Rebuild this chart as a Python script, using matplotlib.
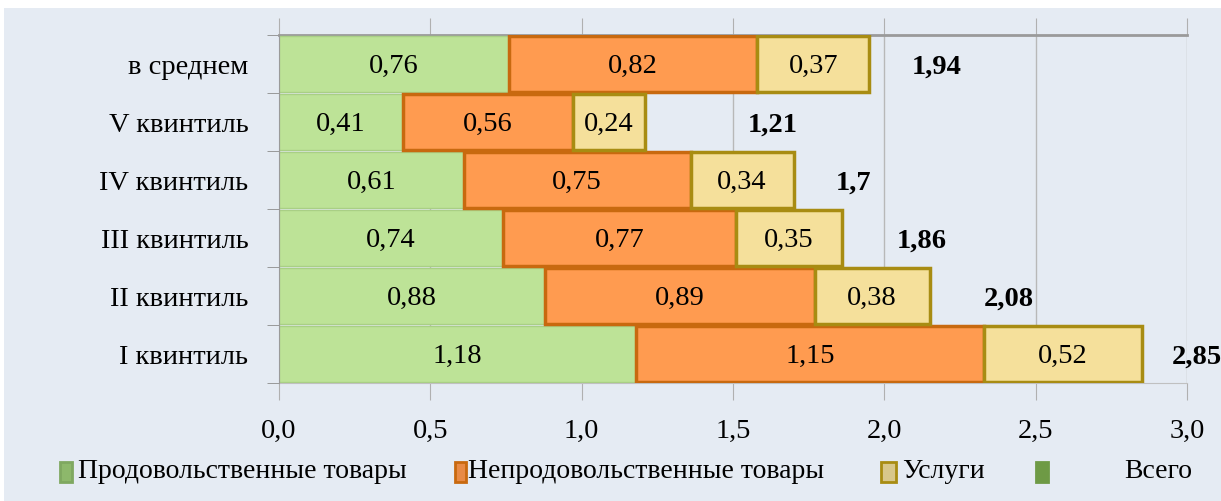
import matplotlib.pyplot as plt
from matplotlib.patches import Rectangle
import numpy as np

plt.rcParams['font.family'] = ['Liberation Serif', 'DejaVu Serif']

# data
categories = ['в среднем', 'V квинтиль', 'IV квинтиль', 'III квинтиль', 'II квинтиль', 'I квинтиль']
food = [0.76, 0.41, 0.61, 0.74, 0.88, 1.18]
nonfood = [0.82, 0.56, 0.75, 0.77, 0.89, 1.15]
services = [0.37, 0.24, 0.34, 0.35, 0.38, 0.52]
totals = [1.94, 1.21, 1.7, 1.86, 2.08, 2.85]
total_labels = ['1,94', '1,21', '1,7', '1,86', '2,08', '2,85']
legend_names = ['Продовольственные товары', 'Непродовольственные товары', 'Услуги', 'Всего']
xticks = [0.0, 0.5, 1.0, 1.5, 2.0, 2.5, 3.0]

# where the bold totals sit to the right of each bar
total_offsets = [0.15, 0.34, 0.14, 0.18, 0.25, 0.10]

bg = '#E5EBF3'
fig = plt.figure(figsize=(12.21, 5.01), dpi=100)
fig.patch.set_facecolor('white')
fig.patches.append(Rectangle((4 / 1221, 0), 1, 1 - 8 / 501, transform=fig.transFigure,
                             facecolor=bg, edgecolor='none', zorder=-10))

ax = fig.add_axes([279 / 1221, 1 - 383 / 501, (1187 - 279) / 1221, (383 - 35) / 501])
ax.set_facecolor(bg)

y = np.arange(len(categories))
h = 0.95
food = np.array(food)
nonfood = np.array(nonfood)
services = np.array(services)

ax.barh(y, food, height=h, color='#BDE397', edgecolor='#A9CF85', linewidth=1, zorder=3)
ax.barh(y, nonfood, left=food, height=h, color='#FF9B50', edgecolor='#C8690F', linewidth=2.5, zorder=3)
ax.barh(y, services, left=food + nonfood, height=h, color='#F5E09B', edgecolor='#A88C12', linewidth=2.5, zorder=3)

fs = 20.5
for i in range(len(categories)):
    ax.text(food[i] / 2, y[i] + 0.04, f'{food[i]:.2f}'.replace('.', ','), ha='center', va='center', fontsize=fs, zorder=4)
    ax.text(food[i] + nonfood[i] / 2, y[i] + 0.04, f'{nonfood[i]:.2f}'.replace('.', ','), ha='center', va='center', fontsize=fs, zorder=4)
    ax.text(food[i] + nonfood[i] + services[i] / 2, y[i] + 0.04, f'{services[i]:.2f}'.replace('.', ','), ha='center', va='center', fontsize=fs, zorder=4)
    ax.text(totals[i] + total_offsets[i], y[i] + 0.06, total_labels[i], ha='left', va='center', fontsize=fs, fontweight='bold', zorder=4, clip_on=False)

ax.set_xlim(0, 3.0)
ax.set_ylim(len(categories) - 0.5, -0.5)
ax.set_xticks(xticks)
ax.set_xticklabels([f'{t:.1f}'.replace('.', ',') for t in xticks], fontsize=fs)
ax.set_yticks(y)
ax.set_yticklabels(categories, fontsize=fs)
ax.set_yticks(np.arange(-0.5, len(categories)), minor=True)
ax.tick_params(axis='y', which='major', length=0, pad=22)
ax.tick_params(axis='y', which='minor', length=9, color='#8C8C8C', direction='out')
ax.tick_params(axis='x', which='major', length=12, color='#B0B0B0', direction='out', top=True, pad=14)

ax.grid(axis='x', color='#B8B8B8', linewidth=1, zorder=1)
ax.spines['right'].set_visible(False)
ax.spines['left'].set_color('#9A9A9A')
ax.spines['top'].set_color('#9A9A9A')
ax.spines['top'].set_linewidth(2)
ax.spines['bottom'].set_color('#C0C0C0')
ax.spines['left'].set_zorder(5)

# legend drawn by hand
leg_y = 1 - 472 / 501
items = [
    (60, 12, '#8DB86B', '#7FA860', 78, legend_names[0]),
    (455, 11, '#E88A45', '#C8690F', 468, legend_names[1]),
    (881, 15, '#D8C78A', '#A88C12', 902, legend_names[2]),
    (1036, 12, '#6E9A45', '#6E9A45', 1124, legend_names[3]),
]
for x0, w, fc, ec, tx, name in items:
    fig.patches.append(Rectangle((x0 / 1221, leg_y - 10 / 501), w / 1221, 20 / 501,
                                 transform=fig.transFigure, facecolor=fc, edgecolor=ec, linewidth=2))
    fig.text(tx / 1221, leg_y, name, ha='left', va='center', fontsize=20)

fig.savefig('out.png', dpi=100, facecolor=fig.get_facecolor())
